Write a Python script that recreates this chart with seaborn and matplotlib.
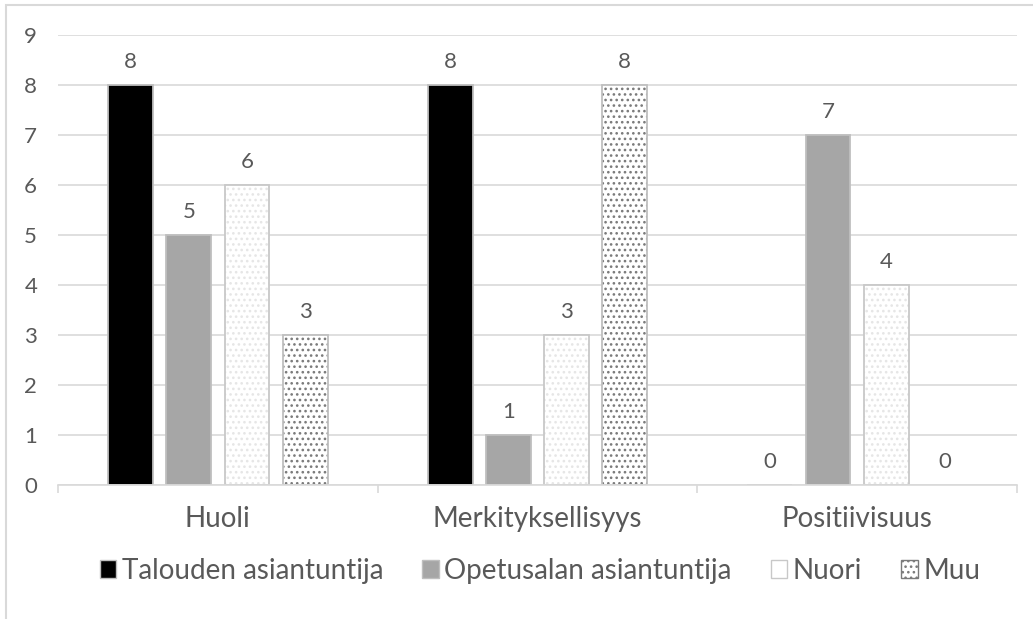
import matplotlib
matplotlib.use("Agg")
import matplotlib.pyplot as plt
import seaborn as sns
import pandas as pd
from matplotlib.patches import Patch, Rectangle

categories = ["Huoli", "Merkityksellisyys", "Positiivisuus"]
series = ["Talouden asiantuntija", "Opetusalan asiantuntija", "Nuori", "Muu"]
talous = [8, 8, 0]
opetus = [5, 1, 7]
nuori = [6, 3, 4]
muu = [3, 8, 0]
yticks = list(range(0, 10))

rows = []
for s, vals in zip(series, [talous, opetus, nuori, muu]):
    for c, v in zip(categories, vals):
        rows.append({"Kategoria": c, "Ryhmä": s, "Arvo": v})
df = pd.DataFrame(rows)

sns.set_theme(style="white")
plt.rcParams["font.family"] = ["Lato", "DejaVu Sans"]
plt.rcParams["hatch.linewidth"] = 1.1
txt = "#595959"
grid = "#d9d9d9"

face = {"Talouden asiantuntija": "#000000", "Opetusalan asiantuntija": "#a6a6a6",
        "Nuori": "#ffffff", "Muu": "#ffffff"}
edge = {"Talouden asiantuntija": "#bfbfbf", "Opetusalan asiantuntija": "#bfbfbf",
        "Nuori": "#c8c8c8", "Muu": "#bfbfbf"}
hatchc = {"Nuori": "#e6e6e6", "Muu": "#7a7a7a"}
hatch = {"Talouden asiantuntija": "", "Opetusalan asiantuntija": "",
         "Nuori": "...", "Muu": "..."}

fig = plt.figure(figsize=(10.33, 6.19), dpi=100)
ax = fig.add_axes([58/1033, 1-485/619, (1017-58)/1033, 450/619])

sns.barplot(data=df, x="Kategoria", y="Arvo", hue="Ryhmä", hue_order=series,
            order=categories, palette=face, width=0.728, gap=0.23, ax=ax,
            legend=False, edgecolor="#bfbfbf", linewidth=1.3)

for cont, s in zip(ax.containers, series):
    for bar in cont:
        bar.set_edgecolor(edge[s])
        if hatch[s]:
            bar.set_hatch(hatch[s])
            bar.set_edgecolor(hatchc[s])
            bar.set_linewidth(0)
            if bar.get_height() > 0:
                ax.add_patch(Rectangle(bar.get_xy(), bar.get_width(), bar.get_height(),
                                       fill=False, edgecolor=edge[s], linewidth=1.3,
                                       zorder=bar.get_zorder() + 0.1))
    ax.bar_label(cont, labels=[str(int(v)) for v in cont.datavalues],
                 padding=9, color=txt, fontsize=16)

ax.set_ylim(0, 9)
ax.set_xlim(-0.5, 2.5)
ax.set_yticks(yticks)
ax.yaxis.grid(True, color=grid, linewidth=1.2)
ax.set_axisbelow(True)
for sp in ["left", "right", "top"]:
    ax.spines[sp].set_visible(False)
ax.spines["bottom"].set_color(grid)
ax.spines["bottom"].set_linewidth(1.2)
ax.set_xlabel("")
ax.set_ylabel("")
ax.tick_params(axis="y", length=0, labelsize=16, labelcolor=txt, pad=15)
ax.set_xticks([-0.5, 0.5, 1.5, 2.5], minor=True)
ax.tick_params(axis="x", which="minor", length=6, color=grid, width=1.2, direction="out")
ax.tick_params(axis="x", which="major", length=0, labelsize=20, labelcolor=txt, pad=15)
ax.xaxis.set_ticks_position("bottom")

handles = []
for s in series:
    if hatch[s]:
        hp = Patch(facecolor=face[s], edgecolor=hatchc[s] if s == "Muu" else edge[s],
                   hatch=hatch[s] if s == "Muu" else "", linewidth=1.0)
    else:
        hp = Patch(facecolor=face[s], edgecolor=edge[s], linewidth=1.0)
    handles.append(hp)
leg = fig.legend(handles, series, loc="center", bbox_to_anchor=(540/1033, 1-571/619),
                 ncol=4, frameon=False, fontsize=20, labelcolor=txt,
                 handlelength=0.6, handleheight=0.6, handletextpad=0.2,
                 columnspacing=1.4)

fig.patches.append(Rectangle((6/1033, -0.1), 1.2, 1-5/619+0.1, transform=fig.transFigure,
                             fill=False, edgecolor=grid, linewidth=1.5, zorder=0))

fig.savefig("out.png", dpi=100)
